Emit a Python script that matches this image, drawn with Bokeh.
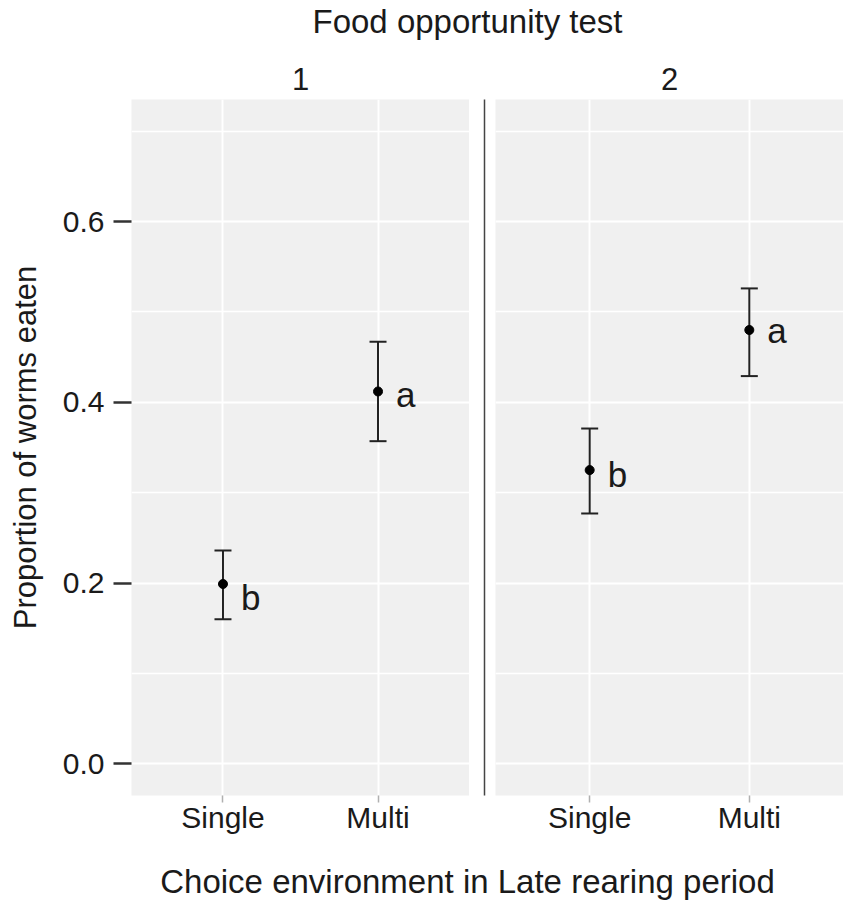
from bokeh.plotting import figure
from bokeh.models import FactorRange, Range1d, FixedTicker, PrintfTickFormatter, ColumnDataSource
from bokeh.layouts import column, row
from bokeh.core.properties import value
from bokeh.embed import file_html
from bokeh.resources import INLINE

FONT = "Liberation Sans"

# ---- data ----
categories = ["Single", "Multi"]
tests = ["1", "2"]
mean_1 = [0.199, 0.412]
upper_1 = [0.236, 0.467]
lower_1 = [0.160, 0.357]
letters_1 = ["b", "a"]
letter_y_1 = [0.184, 0.409]
mean_2 = [0.325, 0.480]
upper_2 = [0.371, 0.526]
lower_2 = [0.277, 0.429]
letters_2 = ["b", "a"]
letter_y_2 = [0.320, 0.479]
y_ticks = [0.0, 0.2, 0.4, 0.6]
y_minor = [0.1, 0.3, 0.5, 0.7]
y_lo, y_hi = -0.035, 0.735

PANEL_BG = "#f0f0f0"
INK = "#1a1a1a"
TOP = 45
BOTTOM = 62
H = TOP + 696 + BOTTOM
W_ALL = 843


def panel(name, means, upper, lower, letters, letter_y, width, show_y):
    p = figure(width=width, height=H,
               x_range=FactorRange(factors=categories, range_padding=0.09,
                                   range_padding_units="absolute"),
               y_range=Range1d(y_lo, y_hi),
               output_backend="svg", toolbar_location=None,
               min_border_top=TOP, min_border_bottom=BOTTOM,
               min_border_left=131 if show_y else 0, min_border_right=0,
               y_axis_location="left" if show_y else None,
               background_fill_color=PANEL_BG, border_fill_color="white",
               outline_line_color=None)
    p.title.text = name
    p.title.align = "center"
    p.title.vertical_align = "middle"
    p.title.standoff = 18
    p.title.text_font = FONT
    p.title.text_font_size = "31px"
    p.title.text_font_style = "normal"
    p.title.text_color = INK

    p.xgrid.grid_line_color = "white"
    p.xgrid.grid_line_width = 2
    p.ygrid.ticker = FixedTicker(ticks=y_ticks, minor_ticks=y_minor)
    p.ygrid.grid_line_color = "white"
    p.ygrid.grid_line_width = 2
    p.ygrid.minor_grid_line_color = "white"
    p.ygrid.minor_grid_line_width = 1.6

    p.xaxis.axis_line_color = None
    p.xaxis.major_tick_line_color = "#b0b0b0"
    p.xaxis.major_tick_line_width = 1.5
    p.xaxis.major_tick_out = 7
    p.xaxis.major_tick_in = 0
    p.xaxis.major_label_standoff = -2
    p.xaxis.major_label_text_font = FONT
    p.xaxis.major_label_text_font_size = "30px"
    p.xaxis.major_label_text_color = INK

    if show_y:
        p.yaxis.ticker = FixedTicker(ticks=y_ticks, minor_ticks=y_minor)
        p.yaxis.formatter = PrintfTickFormatter(format="%.1f")
        p.yaxis.axis_line_color = None
        p.yaxis.minor_tick_line_color = None
        p.yaxis.major_tick_line_color = "#333333"
        p.yaxis.major_tick_line_width = 2.5
        p.yaxis.major_tick_out = 18
        p.yaxis.major_tick_in = 0
        p.yaxis.major_label_standoff = 9
        p.yaxis.major_label_text_font = FONT
        p.yaxis.major_label_text_font_size = "30px"
        p.yaxis.major_label_text_color = INK
        p.yaxis.axis_label = "Proportion of worms eaten"
        p.yaxis.axis_label_text_font = FONT
        p.yaxis.axis_label_text_font_size = "31px"
        p.yaxis.axis_label_text_font_style = "normal"
        p.yaxis.axis_label_text_color = INK
        p.yaxis.axis_label_standoff = 17

    src = ColumnDataSource(dict(x=categories, m=means, up=upper, lo=lower,
                                t=letters, ty=letter_y))
    p.segment(x0="x", y0="lo", x1="x", y1="up", source=src,
              line_color="#222222", line_width=2)
    p.scatter(x="x", y="up", source=src, marker="dash", size=17,
              line_color="#222222", line_width=2)
    p.scatter(x="x", y="lo", source=src, marker="dash", size=17,
              line_color="#222222", line_width=2)
    p.scatter(x="x", y="m", source=src, size=9, color="black")
    p.text(x="x", y="ty", text="t", source=src, x_offset=18,
           text_baseline="alphabetic", text_align="left",
           text_font=value(FONT), text_font_size="35px", text_color=INK)
    return p


left = panel(tests[0], mean_1, upper_1, lower_1, letters_1, letter_y_1, 469, True)
right = panel(tests[1], mean_2, upper_2, lower_2, letters_2, letter_y_2, 348, False)

# divider line between facets
div = figure(width=26, height=H, x_range=Range1d(0, 1), y_range=Range1d(y_lo, y_hi),
             output_backend="svg", toolbar_location=None,
             min_border_top=TOP, min_border_bottom=BOTTOM,
             min_border_left=15, min_border_right=0,
             x_axis_location=None, outline_line_color=None)
div.grid.visible = False
div.yaxis.ticker = FixedTicker(ticks=[])
div.yaxis.major_label_text_font_size = "0px"
div.yaxis.major_tick_line_color = None
div.yaxis.minor_tick_line_color = None
div.yaxis.axis_line_color = "#444444"
div.yaxis.axis_line_width = 1.5

header = figure(width=W_ALL, height=54, output_backend="svg", toolbar_location=None,
                min_border_top=0, min_border_bottom=0, min_border_left=83,
                min_border_right=0, x_axis_location=None, y_axis_location=None,
                outline_line_color=None, title="Food opportunity test")
header.grid.visible = False
header.title.align = "center"
header.title.vertical_align = "top"
header.title.standoff = 4
header.title.text_font = FONT
header.title.text_font_size = "33px"
header.title.text_font_style = "normal"
header.title.text_color = INK

footer = figure(width=W_ALL, height=50, output_backend="svg", toolbar_location=None,
                min_border_top=0, min_border_bottom=0, min_border_left=91,
                min_border_right=0, x_axis_location=None, y_axis_location=None,
                outline_line_color=None, title="Choice environment in Late rearing period")
footer.grid.visible = False
footer.title.align = "center"
footer.title.vertical_align = "middle"
footer.title.standoff = 9
footer.title.text_font = FONT
footer.title.text_font_size = "33px"
footer.title.text_font_style = "normal"
footer.title.text_color = INK

layout = column(header, row(left, div, right), footer)
open("out.html", "w").write(file_html(layout, INLINE))
